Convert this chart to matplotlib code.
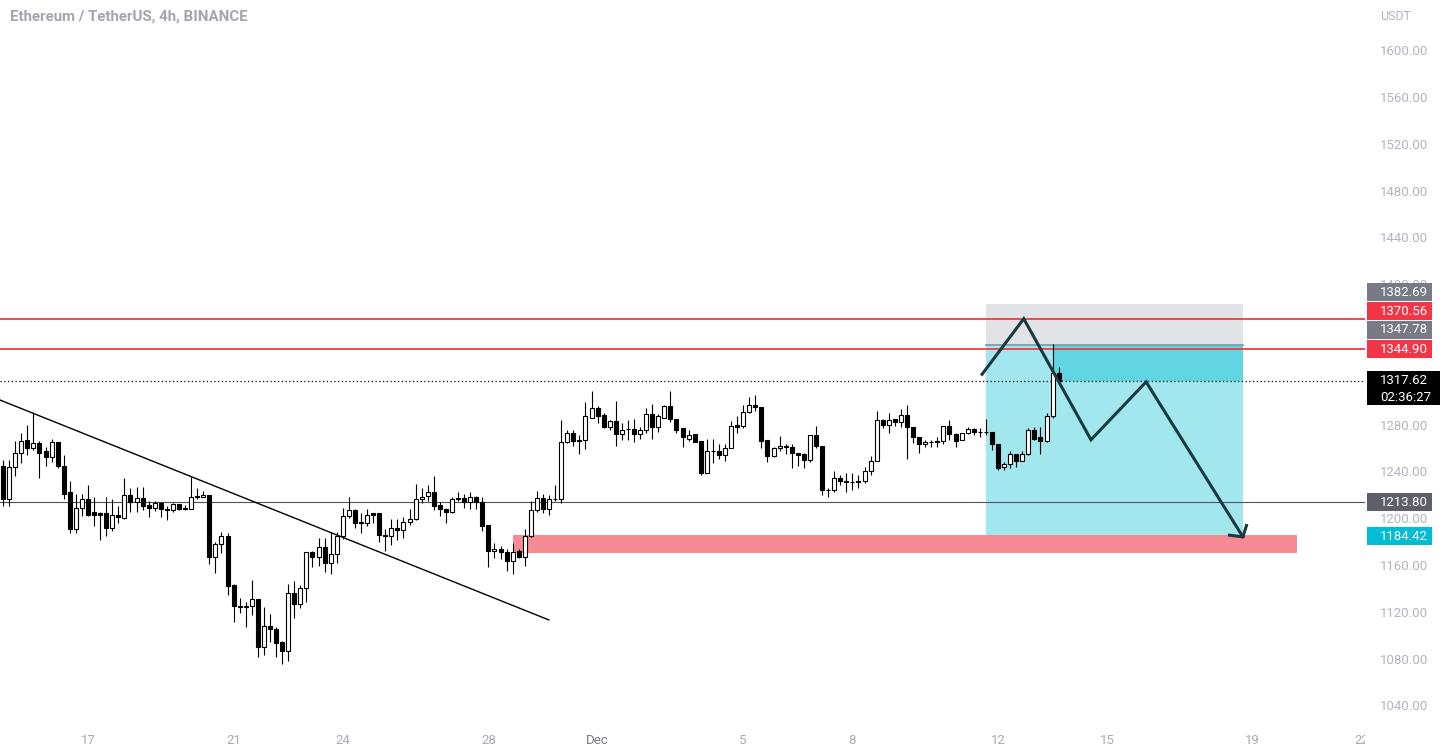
import numpy as np
import pandas as pd
import matplotlib
matplotlib.use("Agg")
import matplotlib.pyplot as plt
import matplotlib.dates as mdates
import matplotlib.transforms as mtransforms
from matplotlib.patches import Rectangle

plt.rcParams['font.family'] = ['Roboto', 'DejaVu Sans']

# ETH/USDT 4h candles, first one opens 2022-11-14 16:00
start = "2022-11-14 16:00"
opens = [1245, 1216, 1244, 1256, 1267, 1260, 1264, 1257, 1252, 1265,
         1245, 1222, 1191, 1209, 1216, 1205, 1204, 1204, 1192, 1203,
         1200, 1220, 1214, 1217, 1211, 1209, 1213, 1208, 1207, 1212,
         1209, 1208, 1219, 1218, 1220, 1167, 1178, 1185, 1143, 1125,
         1124, 1125, 1131, 1090, 1108, 1105, 1094, 1086, 1136, 1127,
         1140, 1171, 1167, 1175, 1162, 1169, 1185, 1202, 1207, 1197,
         1196, 1204, 1204, 1186, 1185, 1192, 1190, 1197, 1199, 1216,
         1219, 1222, 1211, 1208, 1205, 1217, 1217, 1214, 1218, 1214,
         1194, 1172, 1174, 1171, 1163, 1172, 1167, 1185, 1207, 1217,
         1208, 1216, 1216, 1265, 1273, 1267, 1267, 1286, 1294, 1288,
         1278, 1283, 1272, 1276, 1276, 1272, 1275, 1289, 1278, 1286,
         1296, 1285, 1277, 1268, 1272, 1266, 1239, 1257, 1257, 1254,
         1260, 1280, 1279, 1291, 1297, 1295, 1267, 1253, 1260, 1262,
         1261, 1256, 1255, 1250, 1271, 1262, 1224, 1224, 1234, 1232,
         1231, 1232, 1232, 1240, 1249, 1284, 1280, 1285, 1282, 1288,
         1278, 1269, 1263, 1265, 1266, 1266, 1279, 1272, 1267, 1273,
         1276, 1274, 1274, 1274, 1263, 1244, 1246, 1255, 1249, 1255,
         1275, 1269, 1266, 1287, 1324]
closes = [1216, 1244, 1256, 1266, 1260, 1264, 1256, 1252, 1265, 1245,
          1221, 1191, 1209, 1216, 1203, 1203, 1203, 1192, 1203, 1201,
          1220, 1214, 1217, 1210, 1209, 1213, 1208, 1207, 1212, 1208,
          1208, 1218, 1218, 1220, 1167, 1178, 1185, 1142, 1125, 1124,
          1125, 1131, 1090, 1108, 1105, 1093, 1086, 1136, 1127, 1140,
          1171, 1167, 1175, 1162, 1169, 1185, 1202, 1207, 1196, 1196,
          1203, 1203, 1186, 1185, 1192, 1190, 1197, 1199, 1216, 1218,
          1222, 1210, 1208, 1205, 1216, 1216, 1214, 1218, 1214, 1193,
          1172, 1174, 1171, 1163, 1171, 1167, 1185, 1207, 1217, 1208,
          1216, 1216, 1265, 1273, 1266, 1266, 1287, 1294, 1287, 1278,
          1283, 1272, 1275, 1276, 1272, 1275, 1289, 1278, 1287, 1296,
          1285, 1275, 1269, 1271, 1265, 1239, 1257, 1257, 1254, 1260,
          1279, 1278, 1291, 1297, 1295, 1266, 1253, 1260, 1262, 1261,
          1256, 1254, 1250, 1271, 1262, 1224, 1224, 1234, 1232, 1231,
          1231, 1231, 1240, 1249, 1284, 1280, 1284, 1282, 1288, 1278,
          1269, 1263, 1265, 1265, 1265, 1279, 1272, 1266, 1273, 1276,
          1274, 1274, 1274, 1263, 1243, 1246, 1255, 1249, 1255, 1275,
          1268, 1266, 1287, 1324, 1317.62]
highs = [1250, 1250, 1266, 1273, 1280, 1291, 1266, 1261, 1268, 1265,
         1254, 1232, 1221, 1221, 1228, 1218, 1205, 1218, 1216, 1210,
         1234, 1226, 1227, 1227, 1215, 1215, 1214, 1210, 1213, 1212,
         1211, 1235, 1226, 1223, 1220, 1180, 1188, 1187, 1144, 1132,
         1128, 1147, 1131, 1124, 1118, 1107, 1095, 1144, 1146, 1143,
         1171, 1172, 1183, 1183, 1188, 1188, 1209, 1218, 1208, 1204,
         1208, 1204, 1204, 1191, 1199, 1199, 1201, 1208, 1229, 1226,
         1228, 1236, 1214, 1209, 1218, 1222, 1221, 1222, 1219, 1218,
         1194, 1179, 1176, 1174, 1179, 1174, 1191, 1215, 1223, 1221,
         1220, 1228, 1284, 1275, 1275, 1271, 1299, 1309, 1296, 1290,
         1284, 1300, 1281, 1284, 1285, 1278, 1294, 1298, 1289, 1297,
         1309, 1285, 1277, 1275, 1272, 1266, 1268, 1268, 1263, 1263,
         1283, 1287, 1297, 1304, 1305, 1295, 1267, 1261, 1270, 1263,
         1263, 1256, 1256, 1271, 1279, 1262, 1226, 1240, 1237, 1239,
         1239, 1237, 1244, 1253, 1292, 1285, 1290, 1285, 1293, 1297,
         1278, 1269, 1267, 1267, 1269, 1279, 1284, 1273, 1273, 1278,
         1277, 1277, 1285, 1274, 1263, 1248, 1257, 1255, 1257, 1277,
         1278, 1278, 1290, 1349, 1329]
lows = [1210, 1210, 1236, 1247, 1254, 1258, 1234, 1245, 1248, 1243,
        1216, 1187, 1187, 1202, 1202, 1193, 1181, 1185, 1189, 1196,
        1199, 1205, 1205, 1207, 1201, 1206, 1201, 1198, 1205, 1207,
        1207, 1208, 1216, 1218, 1161, 1153, 1170, 1134, 1111, 1119,
        1107, 1117, 1081, 1083, 1094, 1081, 1075, 1078, 1115, 1123,
        1128, 1158, 1159, 1154, 1152, 1162, 1182, 1200, 1192, 1187,
        1193, 1196, 1180, 1172, 1177, 1181, 1183, 1194, 1198, 1213,
        1215, 1207, 1202, 1196, 1204, 1215, 1209, 1208, 1208, 1189,
        1158, 1166, 1165, 1155, 1152, 1166, 1159, 1184, 1205, 1204,
        1203, 1215, 1213, 1264, 1262, 1255, 1259, 1286, 1281, 1277,
        1275, 1262, 1267, 1267, 1265, 1268, 1273, 1268, 1274, 1286,
        1282, 1273, 1261, 1266, 1265, 1237, 1239, 1247, 1251, 1249,
        1260, 1273, 1277, 1290, 1292, 1260, 1248, 1252, 1257, 1255,
        1243, 1245, 1243, 1248, 1260, 1220, 1218, 1222, 1228, 1222,
        1224, 1226, 1230, 1237, 1249, 1277, 1273, 1279, 1278, 1251,
        1264, 1256, 1261, 1261, 1261, 1263, 1267, 1261, 1267, 1272,
        1271, 1269, 1271, 1258, 1241, 1241, 1243, 1244, 1249, 1254,
        1267, 1255, 1265, 1286, 1315]

# levels drawn on the chart
resistance = [1370.56, 1344.90]
support_line = 1213.80
last_price = 1317.62
countdown = "02:36:27"

# short position tool
pos_left, pos_right = "2022-12-11 16:00", "2022-12-18 17:30"
pos_now = "2022-12-13 12:00"
stop_price, entry_price, target_price = 1382.69, 1347.78, 1184.42

# demand zone
zone_left, zone_right = "2022-11-28 16:20", "2022-12-20 05:00"
zone_top, zone_bottom = 1185.4, 1170.5

# descending trend line
trend_t = ["2022-11-14 13:58", "2022-11-29 15:50"]
trend_p = [1301, 1113]

# projected path
path_t = ["2022-12-11 13:30", "2022-12-12 17:00", "2022-12-14 13:20",
          "2022-12-16 01:40", "2022-12-18 17:30"]
path_p = [1323, 1370.5, 1267, 1316.5, 1184]
head_t = ["2022-12-18 07:40", "2022-12-18 20:10"]
head_p = [1185.6, 1195]

date_ticks = ["2022-11-17", "2022-11-21", "2022-11-24", "2022-11-28", "2022-12-01",
              "2022-12-05", "2022-12-08", "2022-12-12", "2022-12-15", "2022-12-19",
              "2022-12-22"]
date_labels = ["17", "21", "24", "28", "Dec", "5", "8", "12", "15", "19", "22"]

opens = np.array(opens, dtype=float)
closes = np.array(closes, dtype=float)
highs = np.array(highs, dtype=float)
lows = np.array(lows, dtype=float)
times = pd.date_range(start, periods=len(opens), freq="4h")
x = mdates.date2num(times)

def dn(s):
    return mdates.date2num(pd.Timestamp(s))

fig = plt.figure(figsize=(14.43, 7.54), dpi=100)
ax = fig.add_axes([0, 28 / 754, 1365 / 1443, 726 / 754])
ax.set_xlim(dn("2022-11-14 13:58"), dn("2022-12-22 02:00"))
ax.set_ylim(1022.3, 1643)

# zones
pl, pr = dn(pos_left), dn(pos_right)
ax.add_patch(Rectangle((pl, entry_price), pr - pl, stop_price - entry_price,
                       fc="#e1e3e6", ec="none", zorder=1))
ax.add_patch(Rectangle((pl, target_price), pr - pl, entry_price - target_price,
                       fc="#a2e6ee", ec="none", zorder=1))
pn = dn(pos_now)
ax.add_patch(Rectangle((pn, last_price), pr - pn, entry_price - last_price,
                       fc="#62d5e3", ec="none", zorder=1.1))
ax.plot([pl, pr], [entry_price, entry_price], color="#7f93a3", lw=1.2, zorder=1.2)
zl, zr = dn(zone_left), dn(zone_right)
ax.add_patch(Rectangle((zl, zone_bottom), zr - zl, zone_top - zone_bottom,
                       fc="#f68b94", ec="none", zorder=1))

# horizontal levels
for lvl in resistance:
    ax.axhline(lvl, color="#ef3b47", lw=1.3, zorder=2)
ax.axhline(support_line, color="#50535e", lw=0.8, zorder=2)
ax.axhline(last_price, color="black", lw=0.9, ls=(0, (1, 2)), zorder=2)

# trend line
ax.plot([dn(t) for t in trend_t], trend_p, color="black", lw=1.0, zorder=2)

# candles
up = closes >= opens
w = 0.11
ax.vlines(x, lows, highs, color="black", lw=0.8, zorder=3)
ax.bar(x[up], (closes - opens)[up], w, bottom=opens[up], color="white",
       edgecolor="black", linewidth=0.8, zorder=4)
ax.bar(x[~up], (closes - opens)[~up], w, bottom=opens[~up], color="black",
       edgecolor="black", linewidth=0.8, zorder=4)

# projected path with open arrow head
px = [dn(t) for t in path_t]
ax.plot(px, path_p, color="#173a40", lw=2.2, zorder=6, solid_joinstyle="miter")
for t, p in zip(head_t, head_p):
    ax.plot([px[-1], dn(t)], [path_p[-1], p], color="#173a40", lw=2.2, zorder=6,
            solid_capstyle="butt")

# axes styling
for s in ax.spines.values():
    s.set_visible(False)
ax.yaxis.tick_right()
ax.set_yticks(np.arange(1040, 1601, 40))
ax.set_yticklabels(["%.2f" % v for v in np.arange(1040, 1601, 40)])
ax.tick_params(axis="y", length=0, pad=10.5, labelsize=9.5, labelcolor="#b2b5be")
ax.set_xticks([dn(t) for t in date_ticks])
ax.set_xticklabels(date_labels)
ax.tick_params(axis="x", length=0, pad=6, labelsize=9.5, labelcolor="#a8abb4")
for lab in ax.get_xticklabels():
    if lab.get_text() == "Dec":
        lab.set_color("#787b86")

# price badges on the scale
tr = mtransforms.blended_transform_factory(ax.transAxes, ax.transData)
bx0, bw = 1367 / 1365, 65 / 1365
badges = [("1382.69", "#787b86", 1393.3), ("1370.56", "#f23645", 1377.1),
          ("1347.78", "#787b86", 1360.9), ("1344.90", "#f23645", 1344.6),
          ("1213.80", "#5d606b", 1213.8), ("1184.42", "#00bcd4", 1184.6)]
for txt, col, yc in badges:
    ax.add_patch(Rectangle((bx0, yc - 7.7), bw, 15.4, transform=tr, fc=col, ec="none",
                           clip_on=False, zorder=7))
    ax.text(1380 / 1365, yc, txt, transform=tr, color="white", fontsize=9.5,
            va="center", ha="left", clip_on=False, zorder=8)
ax.add_patch(Rectangle((bx0, 1296.7), 73 / 1365, 29.1, transform=tr, fc="black",
                       ec="none", clip_on=False, zorder=7))
ax.text(1380 / 1365, 1317.3, "%.2f" % last_price, transform=tr, color="white",
        fontsize=9.5, va="center", ha="left", clip_on=False, zorder=8)
ax.text(1380 / 1365, 1303.4, countdown, transform=tr, color="white",
        fontsize=9.5, va="center", ha="left", clip_on=False, zorder=8)

fig.patches.append(Rectangle((1365 / 1443, 0), 78 / 1443, 28 / 754, fc="white",
                             ec="none", transform=fig.transFigure, zorder=10))
fig.text(1380 / 1443, 1 - 16 / 754, "USDT", color="#b2b5be", fontsize=9, va="center")
fig.text(10 / 1443, 1 - 17 / 754, "Ethereum / TetherUS, 4h, BINANCE", color="#a3a6ae",
         fontsize=10.8, fontweight="bold", va="center")

fig.savefig("out.png", dpi=100)
